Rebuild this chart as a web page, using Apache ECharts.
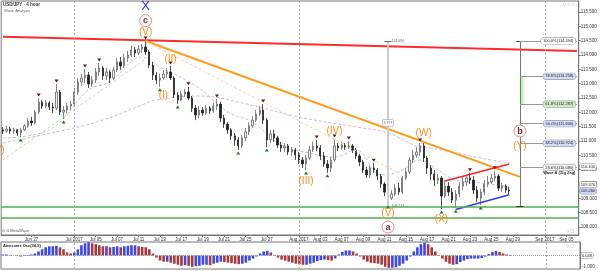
<!DOCTYPE html>
<html><head><meta charset="utf-8">
<script src="https://cdn.jsdelivr.net/npm/echarts@6/dist/echarts.min.js"></script>
<style>html,body{margin:0;padding:0;background:#fff}#c{width:600px;height:271px}</style>
</head><body><div id="c"></div>
<script>
// ---- x axis (8-hour slots) ----
const slotCount = 162;
const tickIndex = [8,20,26,32,38,44,50,56,62,68,74,83,89,95,101,107,113,119,125,131,137,143,152,158];
const tickText = ['Jun 27','Jul 2017','Jul 05','Jul 07','Jul 11','Jul 13','Jul 17','Jul 19','Jul 21','Jul 25','Jul 27','Aug 2017','Aug 03','Aug 07','Aug 09','Aug 11','Aug 15','Aug 17','Aug 21','Aug 23','Aug 25','Aug 29','Sep 2017','Sep 05'];
const monthStarts = [20,83,152];

// ---- price data ----
const opens = [111.39,111.35,111.42,111.35,111.39,111.28,111.39,111.53,111.70,111.63,
112.01,112.36,112.22,112.33,112.19,112.15,112.71,112.01,112.08,112.22,
112.29,112.71,113.06,113.20,113.30,112.99,113.13,113.41,113.55,113.27,
113.41,113.20,113.48,113.76,113.62,113.90,114.00,114.18,114.07,114.21,
114.28,114.11,113.65,113.30,113.13,113.20,113.34,113.41,113.20,112.61,
112.43,112.64,112.71,112.50,112.15,111.91,112.08,111.98,112.15,112.05,
112.22,112.29,111.80,111.59,111.39,111.18,111.04,110.83,111.11,111.32,
111.53,111.73,111.94,112.08,111.73,111.04,111.25,111.11,110.86,110.76,
110.83,110.62,110.69,110.51,110.34,110.20,110.41,110.69,110.83,110.76,
110.48,110.20,110.06,110.34,110.83,110.76,110.86,110.79,110.83,110.69,
110.48,110.27,109.99,109.82,110.06,109.99,109.78,109.50,109.22,109.01,
109.15,109.36,109.22,109.71,109.92,110.34,110.51,110.62,110.83,110.41,
110.06,109.85,109.64,109.71,109.08,109.43,109.22,108.94,109.15,109.43,
109.57,109.71,109.64,109.29,109.01,109.22,109.50,109.57,109.71,109.78,
109.36,109.43,109.29];
const closes = [111.35,111.42,111.35,111.39,111.28,111.39,111.53,111.70,111.63,112.01,
112.36,112.22,112.33,112.19,112.15,112.71,112.01,112.08,112.22,112.29,
112.71,113.06,113.20,113.30,112.99,113.13,113.41,113.55,113.27,113.41,
113.20,113.48,113.76,113.62,113.90,114.00,114.18,114.07,114.21,114.28,
114.11,113.65,113.30,113.13,113.20,113.34,113.41,113.20,112.61,112.43,
112.64,112.71,112.50,112.15,111.91,112.08,111.98,112.15,112.05,112.22,
112.29,111.80,111.59,111.39,111.18,111.04,110.83,111.11,111.32,111.53,
111.73,111.94,112.08,111.73,111.04,111.25,111.11,110.86,110.76,110.83,
110.62,110.69,110.51,110.34,110.20,110.41,110.69,110.83,110.76,110.48,
110.20,110.06,110.34,110.83,110.76,110.86,110.79,110.83,110.69,110.48,
110.27,109.99,109.82,110.06,109.99,109.78,109.50,109.22,109.01,109.15,
109.36,109.22,109.71,109.92,110.34,110.51,110.62,110.83,110.41,110.06,
109.85,109.64,109.71,109.08,109.43,109.22,108.94,109.15,109.43,109.57,
109.71,109.64,109.29,109.01,109.22,109.50,109.57,109.71,109.78,109.36,
109.43,109.29,109.26];
const highs = [111.49,111.53,111.49,111.46,111.42,111.46,111.59,111.80,111.84,112.08,
112.50,112.43,112.43,112.40,112.33,112.99,112.78,112.22,112.33,112.40,
112.85,113.20,113.34,113.51,113.41,113.27,113.55,113.72,113.62,113.55,
113.48,113.58,113.90,113.93,114.04,114.14,114.32,114.28,114.35,114.39,
114.49,114.18,113.76,113.41,113.34,113.48,113.55,113.62,113.27,112.71,
112.75,112.82,112.89,112.57,112.26,112.22,112.19,112.26,112.22,112.33,
112.47,112.36,111.91,111.66,111.46,111.28,111.14,111.21,111.46,111.66,
111.87,112.08,112.22,112.29,111.80,111.39,111.39,111.18,110.97,110.93,
110.90,110.79,110.76,110.62,110.44,110.51,110.83,110.97,111.04,110.86,
110.62,110.34,110.44,111.07,110.93,110.97,110.93,111.00,110.90,110.76,
110.55,110.34,110.10,110.16,110.23,110.06,109.85,109.57,109.36,109.29,
109.50,109.54,109.78,110.06,110.44,110.69,110.79,110.93,110.93,110.48,
110.16,109.99,109.85,109.78,109.64,109.57,109.36,109.29,109.57,109.75,
109.82,109.89,109.78,109.43,109.33,109.64,109.78,109.85,109.96,109.85,
109.54,109.50,109.40];
const lows = [111.25,111.28,111.25,111.25,111.18,111.14,111.35,111.46,111.53,111.59,
111.94,112.12,112.15,112.08,111.98,112.08,111.91,111.77,111.98,112.08,
112.22,112.61,112.92,113.02,112.85,112.89,113.02,113.27,113.13,113.13,
113.02,113.13,113.41,113.48,113.55,113.76,113.93,113.93,114.00,114.07,
114.00,113.55,113.13,112.99,112.89,113.13,113.20,113.13,112.50,112.29,
112.40,112.54,112.43,112.01,111.73,111.80,111.87,111.91,111.94,111.98,
112.08,111.66,111.46,111.25,111.04,110.83,110.69,110.76,111.00,111.21,
111.46,111.66,111.87,111.59,110.79,110.93,110.97,110.76,110.62,110.62,
110.51,110.48,110.34,110.20,110.06,109.99,110.34,110.62,110.65,110.34,
110.10,109.89,109.92,110.27,110.65,110.69,110.69,110.72,110.58,110.37,
110.13,109.89,109.71,109.71,109.89,109.64,109.36,109.08,108.80,108.94,
109.08,109.12,109.15,109.64,109.85,110.23,110.41,110.48,110.27,109.85,
109.64,109.43,109.50,108.63,109.01,109.08,108.84,108.66,109.05,109.29,
109.43,109.50,109.15,108.87,108.77,109.12,109.40,109.50,109.61,109.26,
109.22,109.19,109.15];

// ---- Awesome oscillator ----
const aoValues = [0.09,0.09,0.05,0,-0.05,-0.09,-0.05,0.05,0.09,0.18,
0.36,0.55,0.73,0.82,0.82,0.86,0.73,0.55,0.27,0.18,
0.27,0.55,0.91,1.09,1.18,1.09,1.0,0.91,0.82,0.82,
0.73,0.77,0.82,0.73,0.82,0.86,0.91,0.91,0.82,0.77,
0.73,0.55,0.18,-0.18,-0.45,-0.55,-0.55,-0.64,-0.73,-0.82,
-0.91,-0.86,-0.91,-1.0,-0.95,-0.91,-0.82,-0.82,-0.86,-0.73,
-0.64,-0.55,-0.59,-0.64,-0.68,-0.73,-0.77,-0.73,-0.64,-0.45,
-0.27,-0.09,0.18,0.36,0.41,0.27,0.05,-0.18,-0.36,-0.45,
-0.55,-0.64,-0.73,-0.77,-0.82,-0.82,-0.73,-0.64,-0.5,-0.41,
-0.36,-0.41,-0.45,-0.27,0.09,0.32,0.45,0.45,0.36,0.18,
-0.09,-0.36,-0.55,-0.64,-0.68,-0.73,-0.82,-1.0,-1.09,-1.09,
-1.05,-0.91,-0.73,-0.45,-0.09,0.36,0.73,1.0,1.14,1.0,
0.73,0.36,0.05,-0.27,-0.55,-0.73,-0.82,-0.77,-0.59,-0.45,
-0.32,-0.27,-0.27,-0.27,-0.23,-0.09,0.14,0.32,0.41,0.32,
0.18,0.09,0.05];

// ---- moving averages (sparse readings) ----
const pinkIdx = [0,20,28,39,43,55,67,83,99,108,116,120,134,142];
const pinkVal = [110.93,111.46,111.73,112.26,112.43,112.57,112.33,111.84,111.49,111.28,110.83,110.76,110.41,110.23];
const blueIdx = [0,13,24,30,39,43,55,63,70,78,86,93,99,106,111,117,122,127,134,142];
const blueVal = [111.11,111.39,112.78,113.06,113.93,113.65,112.85,112.01,111.66,110.86,110.58,110.44,110.69,109.82,109.92,110.34,109.99,109.64,109.54,109.40];

// ---- annotations (data coordinates) ----
const resistanceLine = [[0,114.64],[161,114.14]];
const trendLine = [[40,114.49],[145,109.75]];
const wedgeUpper = [[124,109.61],[142,110.20]];
const wedgeLower = [[127,108.61],[142,109.13]];
const olivePivotLine = [[0,110.34],[40,113.86]];
const orangeDashLine = [[40,114.49],[111,109.89]];
const supportLevels = [108.72, 108.34];
const fibHigh = 114.494, fibLow = 108.717, fibIdx = 145, measureIdx = 108;
const fibRatios = [1, 0.786, 0.618, 0.5, 0.382, 0.236];
const topPivots = [10,15,23,27,40,47,52,60,73,88,93,97,104,117,131,138];
const bottomPivots = [5,17,44,49,66,74,85,91,108,123,127,134];
const waveLabels = [
 [0,110.69,'(V)','roman'],[40,115.68,'X','big'],[40,115.20,'c','circle'],[40,114.79,'(V)','roman'],
 [45,112.61,'(I)','roman'],[47,113.86,'(II)','roman'],[85,109.61,'(III)','roman'],[93,111.33,'(IV)','roman'],
 [108,108.49,'(V)','roman'],[108,108.00,'a','circle'],[118,111.28,'(W)','roman'],[123,108.28,'(X)','roman'],
 [145,111.35,'b','circle'],[145,110.83,'(Y)','roman']
];
const axisBoxes = [[110.10,'110.100','#fff'],[109.47,'109.470','#fff'],[109.26,'109.260','#c8d4f8']];

// ---- build ----
const categories = Array.from({length: slotCount}, (_, i) => 'c' + i);
const candles = opens.map((o, i) => [o, closes[i], lows[i], highs[i]]);
function sparse(idx, val){ const a = new Array(opens.length).fill(null); idx.forEach((k,j)=>a[k]=val[j]); return a; }
const FONT = 'Liberation Sans';
const fibColors = ['#ffffff','#d4dcf8','#cdeec4','#d4dcf8','#d4dcf8','#f6f6f6'];

function seg(p, style){ return [{coord:p[0], lineStyle:style},{coord:p[1], lineStyle:style}]; }

const mainLines = [
  seg(resistanceLine,{color:'#ff2a2a',width:2,type:'solid'}),
  seg(trendLine,{color:'#ff9a1a',width:2,type:'solid'}),
  seg(wedgeUpper,{color:'#ff2020',width:1.5,type:'solid'}),
  seg(wedgeLower,{color:'#2a3cff',width:1.5,type:'solid'}),
  seg(olivePivotLine,{color:'#d6d6a0',width:1,type:[3,2]}),
  seg(orangeDashLine,{color:'#ffcfa0',width:1,type:[3,2]}),
  ...supportLevels.map(v => ({yAxis:v, lineStyle:{color:'#4fae4f',width:1.5,type:'solid'}})),
  ...monthStarts.map(k => ({xAxis:k, lineStyle:{color:'#aaa',width:1,type:[2,2]}})),
  seg([[measureIdx,fibHigh],[measureIdx,fibLow]],{color:'#cfcfcf',width:2,type:'solid'}),
  seg([[measureIdx-1,fibHigh],[measureIdx+1,fibHigh]],{color:'#666',width:1,type:'solid'}),
  seg([[fibIdx,fibHigh],[fibIdx,fibLow]],{color:'#777',width:1,type:'solid'}),
  seg([[fibIdx-1,fibHigh],[fibIdx+1,fibHigh]],{color:'#333',width:1,type:'solid'}),
  seg([[fibIdx-1,fibLow],[fibIdx+1,fibLow]],{color:'#333',width:1,type:'solid'}),
  ...fibRatios.map(r => seg([[fibIdx, fibLow + r*(fibHigh-fibLow)],[slotCount-1, fibLow + r*(fibHigh-fibLow)]],{color:'#999',width:1,type:'solid'})),
  ...axisBoxes.map(b => ({yAxis:b[0], lineStyle:{color:'rgba(0,0,0,0)',width:0},
     label:{show:true, position:'end', formatter:b[1], fontSize:4, color:'#222', fontFamily:FONT,
       backgroundColor:b[2], borderColor:'#888', borderWidth:0.5, borderRadius:2, padding:[1,1], distance:1}}))
];

const tiny = {fontSize:4, fontFamily:FONT, color:'#222'};
const points = [];
topPivots.forEach(k => points.push({coord:[k, highs[k]], symbol:'triangle', symbolRotate:180, symbolSize:[4,3], symbolOffset:[0,-3], itemStyle:{color:'#6b1212'}, label:{show:false}}));
bottomPivots.forEach(k => points.push({coord:[k, lows[k]], symbol:'triangle', symbolSize:[4,3], symbolOffset:[0,3], itemStyle:{color:'#1b7a1b'}, label:{show:false}}));
waveLabels.forEach(w => {
  if (w[3] === 'circle') {
    points.push({coord:[w[0],w[1]], symbol:'circle', symbolSize:12, itemStyle:{color:'#fff', borderColor:'#e08a8a', borderWidth:1},
      label:{show:true, position:'inside', formatter:w[2], color:'#8e1b1b', fontSize:9, fontWeight:'bold', fontFamily:FONT}});
  } else {
    const big = w[3] === 'big';
    points.push({coord:[w[0],w[1]], symbol:'circle', symbolSize:1, itemStyle:{color:'rgba(0,0,0,0)'},
      label:{show:true, position:'inside', formatter:w[2], color: big ? '#2433cc' : '#ff8a1c', fontSize: big ? 13 : 10, fontFamily:FONT,
        offset: w[0] === 0 ? [-5,0] : [0,0]}});
  }
});
fibRatios.forEach((r, j) => {
  const lvl = fibLow + r*(fibHigh-fibLow);
  points.push({coord:[slotCount-1, lvl], symbol:'rect', symbolSize:1, itemStyle:{color:'rgba(0,0,0,0)'},
    label:{show:true, position:'left', distance:1, formatter:(r*100).toFixed(1)+'%('+lvl.toFixed(3)+')', ...tiny,
      backgroundColor:fibColors[j], borderColor:'#888', borderWidth:0.5, borderRadius:2, padding:[1,2]}});
});
points.push({coord:[slotCount-1, 109.90], symbol:'rect', symbolSize:1, itemStyle:{color:'rgba(0,0,0,0)'},
  label:{show:true, position:'left', distance:1, formatter:'Wave A (Zig Zag)', ...tiny, fontWeight:'bold'}});
points.push({coord:[measureIdx, fibHigh], symbol:'rect', symbolSize:1, itemStyle:{color:'rgba(0,0,0,0)'},
  label:{show:true, position:'right', distance:3, formatter:fibHigh.toFixed(3), fontSize:3.5, fontFamily:FONT, color:'#666'}});
points.push({coord:[measureIdx, fibLow], symbol:'rect', symbolSize:1, itemStyle:{color:'rgba(0,0,0,0)'},
  label:{show:true, position:'right', distance:3, formatter:fibLow.toFixed(3), fontSize:3.5, fontFamily:FONT, color:'#666'}});
points.push({coord:[measureIdx, 111.63], symbol:'rect', symbolSize:1, itemStyle:{color:'rgba(0,0,0,0)'},
  label:{show:true, position:'inside', formatter:(fibHigh-fibLow).toFixed(3), fontSize:3.5, fontFamily:FONT, color:'#555',
    backgroundColor:'#fff', borderColor:'#999', borderWidth:0.5, padding:[1,1]}});

const aoBlue = '#3b48f0', aoRed = '#a83a3a';
const aoData = aoValues.map((v, i) => ({value:v, itemStyle:{color: (i > 0 && v < aoValues[i-1]) ? aoRed : aoBlue}}));

const chart = echarts.init(document.getElementById('c'), null, {renderer:'canvas'});
chart.setOption({
  animation:false,
  backgroundColor:'#fff',
  textStyle:{fontFamily:FONT},
  grid:[
    {left:1, right:20, top:1, height:234, show:true, borderColor:'#777', borderWidth:1},
    {left:1, right:20, top:242, height:27, show:true, borderColor:'#777', borderWidth:1}
  ],
  xAxis:[
    {type:'category', gridIndex:0, data:categories, boundaryGap:true,
     axisLine:{show:true, lineStyle:{color:'#777'}},
     axisTick:{show:true, interval:(i)=>tickIndex.includes(i), alignWithLabel:true, length:2, lineStyle:{color:'#777'}},
     axisLabel:{show:true, interval:0, margin:2, fontSize:4.5, color:'#333', fontFamily:FONT,
       formatter:(v, i) => { const k = tickIndex.indexOf(i); return k < 0 ? '' : tickText[k]; }},
     splitLine:{show:false}},
    {type:'category', gridIndex:1, data:categories, boundaryGap:true,
     axisLine:{show:false}, axisTick:{show:false}, axisLabel:{show:false}, splitLine:{show:false}}
  ],
  yAxis:[
    {type:'value', gridIndex:0, position:'right', min:107.723, max:115.885, splitNumber:16, minInterval:0.5, maxInterval:0.5,
     axisLine:{show:true, lineStyle:{color:'#777'}}, axisTick:{show:true, length:2, lineStyle:{color:'#777'}},
     axisLabel:{fontSize:4.5, color:'#333', margin:2, fontFamily:FONT, showMinLabel:false, showMaxLabel:false, formatter:v=>v.toFixed(3)},
     splitLine:{show:false}},
    {type:'value', gridIndex:1, position:'right', min:-1.2, max:1.2, splitNumber:2,
     axisLine:{show:true, lineStyle:{color:'#777'}}, axisTick:{show:false},
     axisLabel:{fontSize:4.5, color:'#333', margin:2, fontFamily:FONT, showMinLabel:false, showMaxLabel:false, formatter:v=> v === -1 ? '-1.000' : ''},
     splitLine:{show:false}}
  ],
  series:[
    {type:'line', xAxisIndex:0, yAxisIndex:0, data:sparse(pinkIdx,pinkVal), connectNulls:true, smooth:0.4, symbol:'none', silent:true,
     lineStyle:{color:'#ddb0e4', width:1, type:[3,2]}, z:1},
    {type:'line', xAxisIndex:0, yAxisIndex:0, data:sparse(blueIdx,blueVal), connectNulls:true, smooth:0.4, symbol:'none', silent:true,
     lineStyle:{color:'#b0c8f4', width:1, type:[3,2]}, z:1},
    {type:'candlestick', xAxisIndex:0, yAxisIndex:0, data:candles, barMaxWidth:2.4, z:3,
     itemStyle:{color:'#f4f4f4', color0:'#222', borderColor:'#666', borderColor0:'#222', borderWidth:0.8},
     markLine:{silent:true, symbol:['none','none'], animation:false, label:{show:false}, data:mainLines},
     markArea:{silent:true, itemStyle:{color:'#b9f3a6'}, data:[[{coord:[fibIdx, fibLow+0.786*(fibHigh-fibLow)]},{coord:[fibIdx+1, fibLow+0.618*(fibHigh-fibLow)]}]]},
     markPoint:{silent:true, animation:false, data:points}
    },
    {type:'bar', xAxisIndex:1, yAxisIndex:1, data:aoData, barWidth:2.6,
     markLine:{silent:true, symbol:['none','none'], animation:false,
       data:[
         {yAxis:0, lineStyle:{color:'#999', width:1, type:[1,1]},
          label:{show:true, position:'end', formatter:'0.048', fontSize:4, color:'#222', backgroundColor:'#fff', borderColor:'#888', borderWidth:0.5, borderRadius:2, padding:[1,1], distance:1}},
         ...monthStarts.map(k => ({xAxis:k, lineStyle:{color:'#aaa', width:1, type:[2,2]}, label:{show:false}}))
       ]}}
  ],
  graphic:[
    {type:'text', left:3, top:2, style:{text:'USD/JPY - 4 hour', fontSize:4.5, fontWeight:'bold', fill:'#333', fontFamily:FONT}},
    {type:'text', left:4, top:9, style:{text:'Wave Analysis', fontSize:4, fill:'#666', fontFamily:FONT}},
    {type:'text', left:2, top:229, style:{text:'\u2299 \u2299 MetaWave', fontSize:4, fill:'#555', fontFamily:FONT}},
    {type:'text', left:3, top:244, style:{text:'Awesome Osc(34,5)', fontSize:4, fontWeight:'bold', fill:'#222', fontFamily:FONT}},
    {type:'text', left:563, top:2, style:{text:'\u25C7 \u25C7 \u25C7', fontSize:4, fill:'#999', fontFamily:'DejaVu Sans'}},
    {type:'text', left:566, top:229, style:{text:'\u25C7 \u25A1', fontSize:4, fill:'#999', fontFamily:'DejaVu Sans'}},
    {type:'text', left:566, top:244, style:{text:'\u25C7 \u25A1', fontSize:4, fill:'#999', fontFamily:'DejaVu Sans'}}
  ]
});
</script>
</body></html>
